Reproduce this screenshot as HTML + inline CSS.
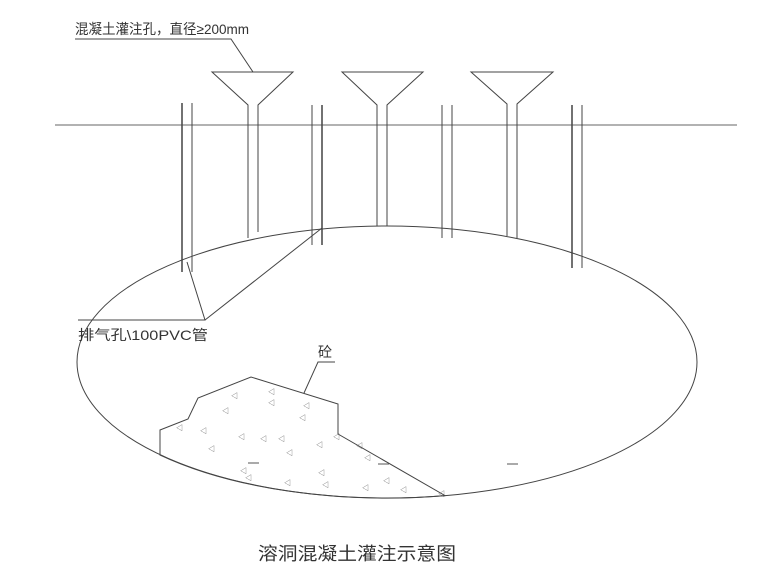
<!DOCTYPE html>
<html><head><meta charset="utf-8"><style>
body{margin:0;background:#fff;}
svg{display:block}
text{font-family:"Liberation Sans","Noto Sans CJK SC",sans-serif;fill:#333}
</style></head><body>
<svg width="780" height="583" viewBox="0 0 780 583" xmlns="http://www.w3.org/2000/svg">
<g stroke="#444" stroke-width="1" fill="none">
<line x1="55" y1="125" x2="737" y2="125" stroke="#666"/>
<ellipse cx="387" cy="362" rx="310" ry="136"/>
<polyline points="248,238 248,105 212,72 293,72 258,105 258,232"/>
<polyline points="377,226 377,105 342,72 423,72 387,105 387,226"/>
<polyline points="507,236 507,104 471,72 553,72 517,104 517,238"/>
<line x1="182" y1="103" x2="182" y2="272" stroke-width="1.5"/>
<line x1="192" y1="103" x2="192" y2="272"/>
<line x1="312" y1="105" x2="312" y2="245"/>
<line x1="322" y1="105" x2="322" y2="245" stroke-width="1.5"/>
<line x1="442" y1="105" x2="442" y2="238"/>
<line x1="452" y1="105" x2="452" y2="238"/>
<line x1="572" y1="105" x2="572" y2="268" stroke-width="1.5"/>
<line x1="582" y1="105" x2="582" y2="268"/>
<polyline points="75,39 231,39 253,72"/>
<polyline points="78,320 205,320 187,262"/>
<line x1="205" y1="320" x2="322" y2="228"/>
<polyline points="304,393 318,362 335,362"/>
<path d="M160,455 L160,430 L188,419 L198,398 L251,377 L338,404 L338,434 L445,495.6 A310 136 0 0 1 160,455 Z"/>
</g>
<g font-size="7" style="fill:#555">
<text x="231" y="398" style="fill:#555">◁</text><text x="268" y="394" style="fill:#555">◁</text>
<text x="268" y="405" style="fill:#555">◁</text><text x="303" y="408" style="fill:#555">◁</text>
<text x="222" y="413" style="fill:#555">◁</text><text x="299" y="420" style="fill:#555">◁</text>
<text x="176" y="430" style="fill:#555">◁</text><text x="200" y="433" style="fill:#555">◁</text>
<text x="238" y="439" style="fill:#555">◁</text><text x="260" y="441" style="fill:#555">◁</text>
<text x="278" y="441" style="fill:#555">◁</text><text x="316" y="447" style="fill:#555">◁</text>
<text x="333" y="439" style="fill:#555">◁</text><text x="356" y="448" style="fill:#555">◁</text>
<text x="208" y="451" style="fill:#555">◁</text><text x="286" y="455" style="fill:#555">◁</text>
<text x="364" y="460" style="fill:#555">◁</text><text x="240" y="473" style="fill:#555">◁</text>
<text x="318" y="475" style="fill:#555">◁</text><text x="383" y="483" style="fill:#555">◁</text>
<text x="245" y="480" style="fill:#555">◁</text><text x="284" y="485" style="fill:#555">◁</text>
<text x="322" y="487" style="fill:#555">◁</text><text x="362" y="490" style="fill:#555">◁</text>
<text x="400" y="492" style="fill:#555">◁</text><text x="438" y="496" style="fill:#555">◁</text>
</g>
<g stroke="#555"><line x1="248" y1="463" x2="259" y2="463"/><line x1="378" y1="464" x2="389" y2="464"/><line x1="507" y1="464" x2="518" y2="464"/></g>
<text x="75" y="34" font-size="14" textLength="174" lengthAdjust="spacingAndGlyphs">混凝土灌注孔，直径≥200mm</text>
<text x="78" y="340" font-size="14" textLength="130" lengthAdjust="spacingAndGlyphs">排气孔\100PVC管</text>
<text x="318" y="357" font-size="14">砼</text>
<text x="258" y="560" font-size="18" textLength="198" lengthAdjust="spacingAndGlyphs">溶洞混凝土灌注示意图</text>
</svg>
</body></html>
